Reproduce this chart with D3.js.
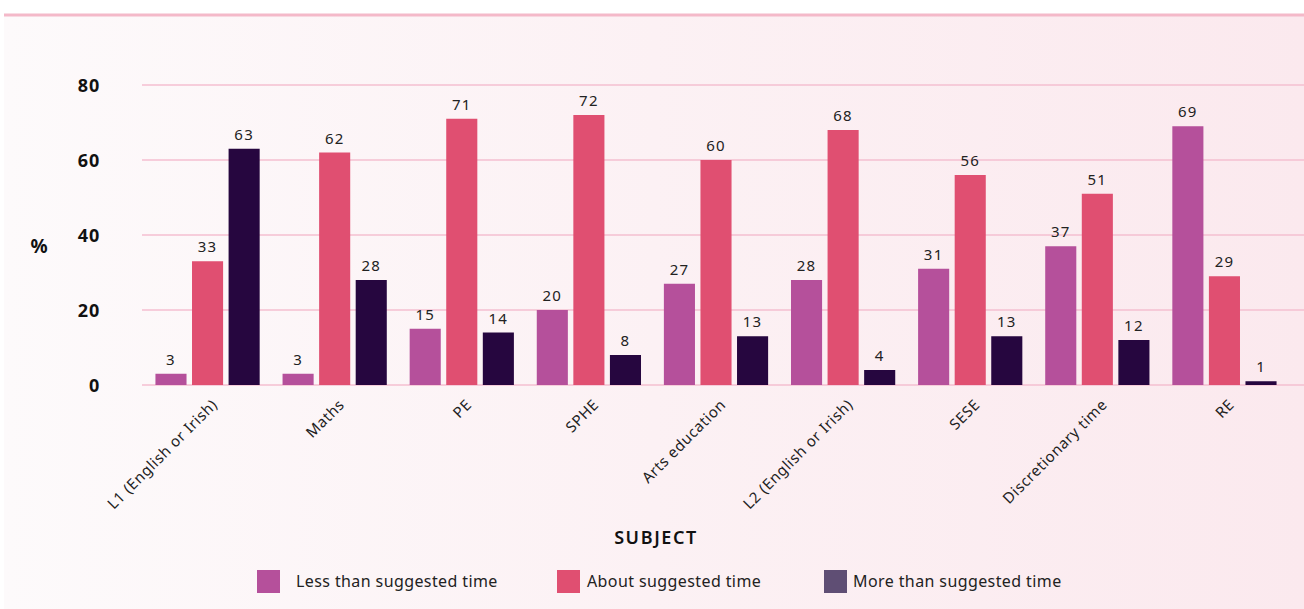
<!DOCTYPE html>
<html>
<head>
<meta charset="utf-8">
<script src="https://cdn.jsdelivr.net/npm/d3@7"></script>
<style>
  html, body { margin: 0; padding: 0; background: #ffffff; }
  svg { display: block; font-family: "Noto Sans", "Open Sans", sans-serif; }
</style>
</head>
<body>
<svg id="chart" width="1304" height="609"></svg>
<script>
// Subjects on the x axis
const subjects = [
  "L1 (English or Irish)", "Maths", "PE", "SPHE", "Arts education",
  "L2 (English or Irish)", "SESE", "Discretionary time", "RE"
];
// Series names and values (% of teachers)
const seriesNames = ["Less than suggested time", "About suggested time", "More than suggested time"];
const lessValues  = [3, 3, 15, 20, 27, 28, 31, 37, 69];
const aboutValues = [33, 62, 71, 72, 60, 68, 56, 51, 29];
const moreValues  = [63, 28, 14, 8, 13, 4, 13, 12, 1];
const yTicks = [0, 20, 40, 60, 80];

const barColors    = ["#b5509b", "#e04f71", "#26063f"];
const legendColors = ["#b5509b", "#e04f71", "#5f4e74"];

const svg = d3.select("#chart");
const W = 1304, H = 609;

// Panel background with soft horizontal gradient
const defs = svg.append("defs");
const grad = defs.append("linearGradient").attr("id", "bg").attr("x1", 0).attr("x2", 1).attr("y1", 0).attr("y2", 0);
grad.append("stop").attr("offset", "0%").attr("stop-color", "#fdfafb");
grad.append("stop").attr("offset", "50%").attr("stop-color", "#fcf1f4");
grad.append("stop").attr("offset", "100%").attr("stop-color", "#fbe9ee");
svg.append("rect").attr("x", 4).attr("y", 15).attr("width", W - 4).attr("height", H - 15).attr("fill", "url(#bg)");
svg.append("rect").attr("x", 4).attr("y", 13.5).attr("width", W - 4).attr("height", 3).attr("fill", "#f4b9c9");

// Scales
const y = d3.scaleLinear().domain([0, 80]).range([385, 85]);
const x0 = d3.scaleBand().domain(subjects).range([144, 1288]).paddingInner(0.18).paddingOuter(0.09);
const x1 = d3.scaleBand().domain(d3.range(3)).range([0, x0.bandwidth()]).paddingInner(0.15);

// Gridlines
svg.append("g").selectAll("line").data(yTicks).join("line")
  .attr("x1", 142).attr("x2", W)
  .attr("y1", d => y(d)).attr("y2", d => y(d))
  .attr("stroke", "#f5bfd0").attr("stroke-width", 1.5);

// Y axis labels
const yAxis = d3.axisLeft(y).tickValues(yTicks).tickSize(0).tickPadding(0);
const gy = svg.append("g").attr("transform", "translate(100,0)").call(yAxis);
gy.select(".domain").remove();
gy.selectAll("text")
  .attr("font-size", 18).attr("font-weight", "bold").attr("fill", "#111")
  .attr("letter-spacing", 0.8)
  .attr("font-family", "\"Noto Sans\", sans-serif").attr("dy", "0.35em");

svg.append("text").attr("x", 39).attr("y", 246).attr("dy", "0.35em")
  .attr("text-anchor", "middle").attr("font-size", 19).attr("font-weight", "bold").attr("fill", "#111")
  .text("%");

// Bars
const rows = subjects.map((s, i) => ({ subject: s, values: [lessValues[i], aboutValues[i], moreValues[i]] }));
const groups = svg.append("g").selectAll("g").data(rows).join("g")
  .attr("transform", d => `translate(${x0(d.subject)},0)`);

groups.selectAll("rect").data(d => d.values.map((v, k) => ({ v, k }))).join("rect")
  .attr("x", d => x1(d.k)).attr("width", x1.bandwidth())
  .attr("y", d => y(d.v)).attr("height", d => y(0) - y(d.v))
  .attr("fill", d => barColors[d.k]);

groups.selectAll("text.val").data(d => d.values.map((v, k) => ({ v, k }))).join("text")
  .attr("class", "val")
  .attr("x", d => x1(d.k) + x1.bandwidth() / 2).attr("y", d => y(d.v) - 9)
  .attr("text-anchor", "middle").attr("font-size", 15).attr("letter-spacing", 1.2).attr("fill", "#222")
  .text(d => d.v);

// X axis labels, rotated
const xAxis = d3.axisBottom(x0).tickSize(0).tickPadding(0);
const gx = svg.append("g").attr("transform", "translate(0,385)").call(xAxis);
gx.select(".domain").remove();
gx.selectAll("text")
  .attr("font-size", 15).attr("letter-spacing", 0.6).attr("fill", "#222")
  .attr("font-family", "\"Noto Sans\", sans-serif")
  .attr("text-anchor", "end")
  .attr("transform", "translate(7,17) rotate(-45)")
  .attr("x", 0).attr("y", 0).attr("dy", "0.35em");

// X axis title
svg.append("text").attr("x", 656).attr("y", 538).attr("dy", "0.35em")
  .attr("text-anchor", "middle").attr("font-size", 18).attr("font-weight", 600)
  .attr("letter-spacing", 1.6).attr("fill", "#111")
  .text("SUBJECT");

// Legend
const legendX = [257, 557, 824];
const legendTextX = [296, 587, 853];
const lg = svg.append("g").selectAll("g").data(seriesNames).join("g");
lg.append("rect")
  .attr("x", (d, i) => legendX[i]).attr("y", 570).attr("width", 23).attr("height", 23)
  .attr("fill", (d, i) => legendColors[i]);
lg.append("text")
  .attr("x", (d, i) => legendTextX[i]).attr("y", 581).attr("dy", "0.35em")
  .attr("font-size", 16).attr("letter-spacing", 0.4).attr("fill", "#222")
  .text(d => d);
</script>
</body>
</html>
